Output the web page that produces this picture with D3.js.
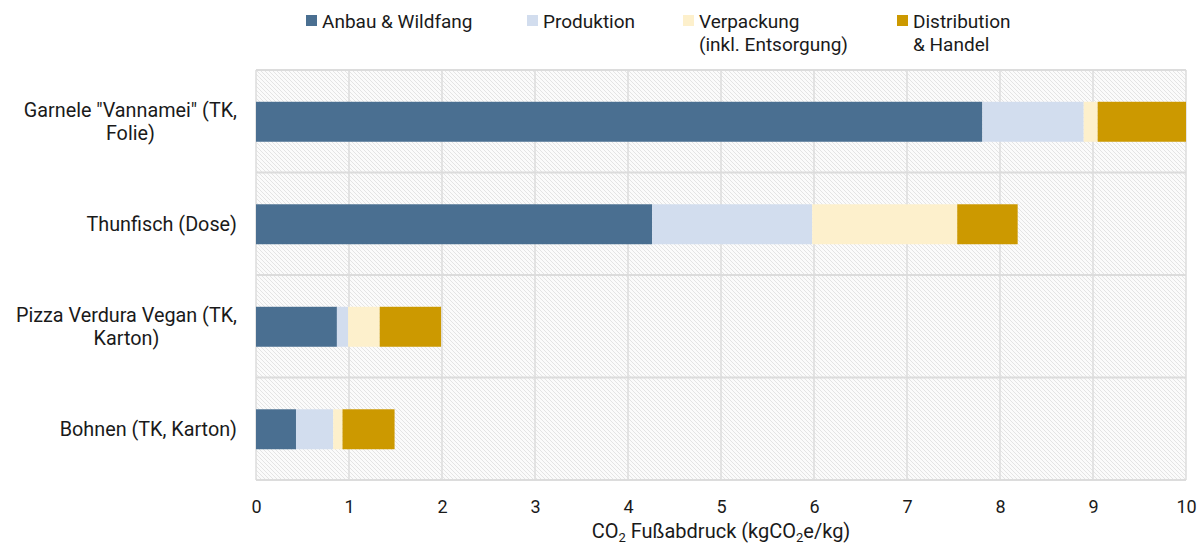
<!DOCTYPE html>
<html>
<head>
<meta charset="utf-8">
<script src="https://cdn.jsdelivr.net/npm/d3@7"></script>
<style>
  body { margin: 0; background: #fff; }
  svg text { font-family: Roboto, "Open Sans", sans-serif; fill: #1a1a1a; }
</style>
</head>
<body>
<div id="chart"></div>
<script>
const categories = [
  ['Garnele "Vannamei" (TK,', 'Folie)'],
  ['Thunfisch (Dose)'],
  ['Pizza Verdura Vegan (TK,', 'Karton)'],
  ['Bohnen (TK, Karton)']
]
const legendLabels = [['Anbau & Wildfang'], ['Produktion'], ['Verpackung', '(inkl. Entsorgung)'], ['Distribution', '& Handel']]
const anbau = [7.81, 4.26, 0.87, 0.43]
const produktion = [1.09, 1.72, 0.12, 0.40]
const verpackung = [0.15, 1.56, 0.34, 0.10]
const distribution = [0.95, 0.65, 0.66, 0.56]
const xTicks = [0, 1, 2, 3, 4, 5, 6, 7, 8, 9, 10]
const colors = ['#4a6f91', '#d2ddee', '#fdf0cc', '#cc9900']

const width = 1203, height = 544
const margin = {top: 70, right: 17, bottom: 64, left: 256}
const iw = width - margin.left - margin.right
const ih = height - margin.top - margin.bottom
const fs = 19

const svg = d3.select('#chart').append('svg')
  .attr('width', width)
  .attr('height', height)

const defs = svg.append('defs')
const pat = defs.append('pattern')
  .attr('id', 'hatch')
  .attr('patternUnits', 'userSpaceOnUse')
  .attr('width', 4).attr('height', 4)
pat.append('rect').attr('width', 4).attr('height', 4).attr('fill', '#fbfbfb')
pat.append('path')
  .attr('d', 'M-1,-1 L5,5 M-1,3 L1,5 M3,-1 L5,1')
  .attr('stroke', '#e4e4e4').attr('stroke-width', 1)

const g = svg.append('g').attr('transform', 'translate(' + margin.left + ',' + margin.top + ')')

const x = d3.scaleLinear().domain([0, 10]).range([0, iw])
const y = d3.scaleBand().domain(d3.range(categories.length)).range([0, ih]).paddingInner(0).paddingOuter(0)

g.append('rect').attr('width', iw).attr('height', ih).attr('fill', 'url(#hatch)')

// grid
g.append('g').selectAll('line').data(xTicks).join('line')
  .attr('x1', d => x(d)).attr('x2', d => x(d))
  .attr('y1', 0).attr('y2', ih)
  .attr('stroke', '#dcdcdc').attr('stroke-width', 1.5)
g.append('g').selectAll('line').data(d3.range(categories.length + 1)).join('line')
  .attr('x1', 0).attr('x2', iw)
  .attr('y1', d => d * y.step()).attr('y2', d => d * y.step())
  .attr('stroke', '#dcdcdc').attr('stroke-width', 2)

// stacked bars
const table = categories.map((c, i) => ({
  i: i, Anbau: anbau[i], Produktion: produktion[i], Verpackung: verpackung[i], Distribution: distribution[i]
}))
const keys = ['Anbau', 'Produktion', 'Verpackung', 'Distribution']
const stacked = d3.stack().keys(keys)(table)

g.append('g')
  .selectAll('g').data(stacked).join('g')
  .attr('fill', (d, i) => colors[i])
  .selectAll('rect').data(d => d).join('rect')
  .attr('x', d => x(d[0]))
  .attr('width', d => Math.max(0, x(Math.min(d[1], 10)) - x(d[0])))
  .attr('y', (d, i) => y(i) + y.bandwidth() * 0.31)
  .attr('height', y.bandwidth() * 0.39)

// x axis labels
const xAxis = g.append('g')
  .attr('transform', 'translate(0,' + ih + ')')
  .call(d3.axisBottom(x).tickValues(xTicks).tickSize(0).tickPadding(20))
xAxis.select('.domain').remove()
xAxis.selectAll('text').attr('font-size', 18).attr('font-family', 'Roboto, sans-serif').attr('fill', '#1a1a1a')

// axis title
const title = svg.append('text')
  .attr('x', margin.left + iw / 2)
  .attr('y', 538)
  .attr('text-anchor', 'middle')
  .attr('font-size', 20)
title.append('tspan').text('CO')
title.append('tspan').text('2').attr('font-size', 13).attr('dy', 4)
title.append('tspan').text(' Fußabdruck (kgCO').attr('dy', -4)
title.append('tspan').text('2').attr('font-size', 13).attr('dy', 4)
title.append('tspan').text('e/kg)').attr('dy', -4)

// category labels
categories.forEach((lines, i) => {
  const t = svg.append('text').attr('font-size', 19.8).attr('text-anchor', 'middle')
  const cy = margin.top + y(i) + y.bandwidth() / 2
  const lh = 23
  const y0 = cy - (lines.length - 1) * lh / 2 + 7
  lines.forEach((l, j) => {
    t.append('tspan').attr('x', 0).attr('y', y0 + j * lh).text(l)
  })
  const w = t.node().getBBox().width
  t.selectAll('tspan').attr('x', 237 - w / 2)
})

// legend
const legendX = [306, 527, 683, 897]
legendLabels.forEach((lines, i) => {
  svg.append('rect').attr('x', legendX[i]).attr('y', 15).attr('width', 11).attr('height', 11).attr('fill', colors[i])
  const t = svg.append('text').attr('font-size', fs)
  lines.forEach((l, j) => {
    t.append('tspan').attr('x', legendX[i] + 16).attr('y', 28 + j * 23).text(l)
  })
})
</script>
</body>
</html>
